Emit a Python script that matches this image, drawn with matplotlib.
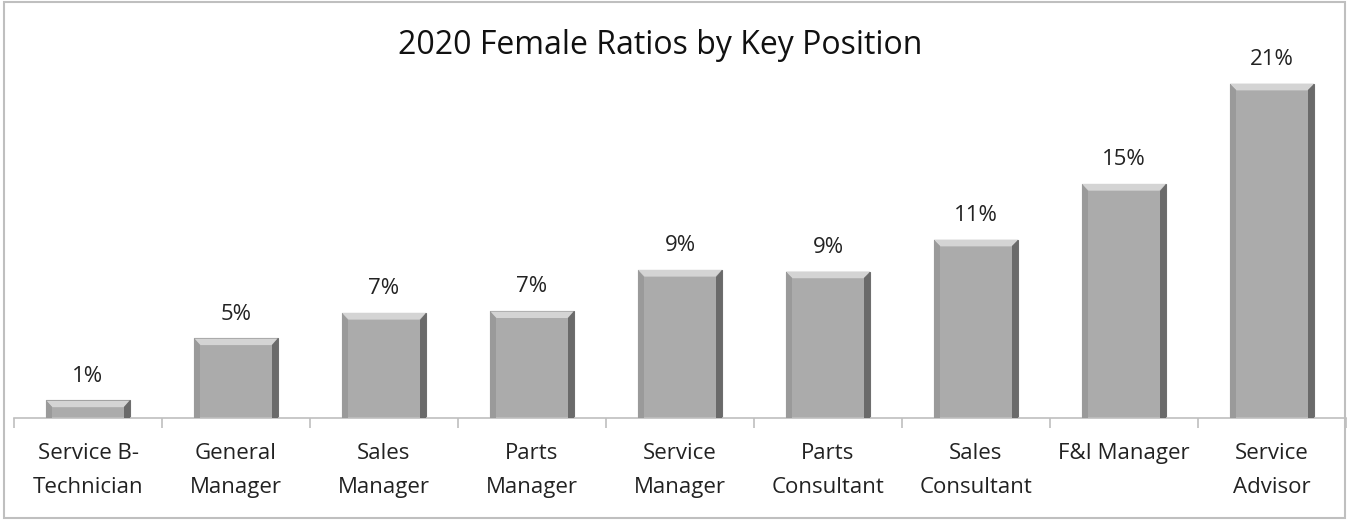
import numpy as np
import matplotlib.pyplot as plt
from matplotlib.patches import Polygon, Rectangle

positions = ['Service B-\nTechnician', 'General\nManager', 'Sales\nManager', 'Parts\nManager',
             'Service\nManager', 'Parts\nConsultant', 'Sales\nConsultant', 'F&I Manager',
             'Service\nAdvisor']
ratios = [1.1, 5.0, 6.6, 6.7, 9.3, 9.2, 11.2, 14.7, 21.0]
labels = ['1%', '5%', '7%', '7%', '9%', '9%', '11%', '15%', '21%']

plt.rcParams['font.family'] = ['Open Sans', 'DejaVu Sans']

fig = plt.figure(figsize=(13.49, 5.2), dpi=100)
ax = fig.add_axes([14 / 1349, 102 / 520, 1332 / 1349, 398 / 520])

x = np.arange(len(ratios))
bw = 0.57
bars = ax.bar(x, ratios, width=bw, color='#ababab', edgecolor='#6e6e6e', linewidth=0.8, zorder=2)

# bevel look: light top strip, dark right strip, softer left strip
bx, by = 0.045, 0.42
for b in bars:
    x0, w, h = b.get_x(), b.get_width(), b.get_height()
    x1 = x0 + w
    ax.add_patch(Polygon([(x0, h), (x1, h), (x1 - bx, h - by), (x0 + bx, h - by)],
                         closed=True, facecolor='#d4d4d4', edgecolor='none', zorder=3))
    ax.add_patch(Polygon([(x1, h), (x1, 0), (x1 - bx, 0), (x1 - bx, h - by)],
                         closed=True, facecolor='#6a6a6a', edgecolor='none', zorder=3))
    ax.add_patch(Polygon([(x0, h), (x0, 0), (x0 + bx, 0), (x0 + bx, h - by)],
                         closed=True, facecolor='#9a9a9a', edgecolor='none', zorder=3))

for xi, v, t in zip(x, ratios, labels):
    ax.annotate(t, (xi, v), xytext=(0, 10), textcoords='offset points',
                ha='center', va='bottom', fontsize=16, color='#222222')

ax.set_xlim(-0.5, len(ratios) - 0.5)
ax.set_ylim(0, 25)
ax.set_yticks([])
for s in ['top', 'right', 'left']:
    ax.spines[s].set_visible(False)
ax.spines['bottom'].set_color('#bfbfbf')
ax.spines['bottom'].set_linewidth(1.2)

ax.set_xticks(np.arange(len(ratios) + 1) - 0.5)
ax.set_xticklabels([])
ax.tick_params(axis='x', which='major', length=7, color='#bfbfbf', width=1.2)
ax.set_xticks(x, minor=True)
ax.set_xticklabels(positions, minor=True, fontsize=16, color='#222222', linespacing=1.8)
ax.tick_params(axis='x', which='minor', length=0, pad=18)

fig.text(660 / 1349, 1 - 46 / 520, '2020 Female Ratios by Key Position',
         ha='center', va='center', fontsize=23, color='#111111')

fig.patches.append(Rectangle((0.003, 0.004), 0.994, 0.992, transform=fig.transFigure,
                             fill=False, edgecolor='#bfbfbf', linewidth=1.5))

fig.savefig('out.png', dpi=100)
